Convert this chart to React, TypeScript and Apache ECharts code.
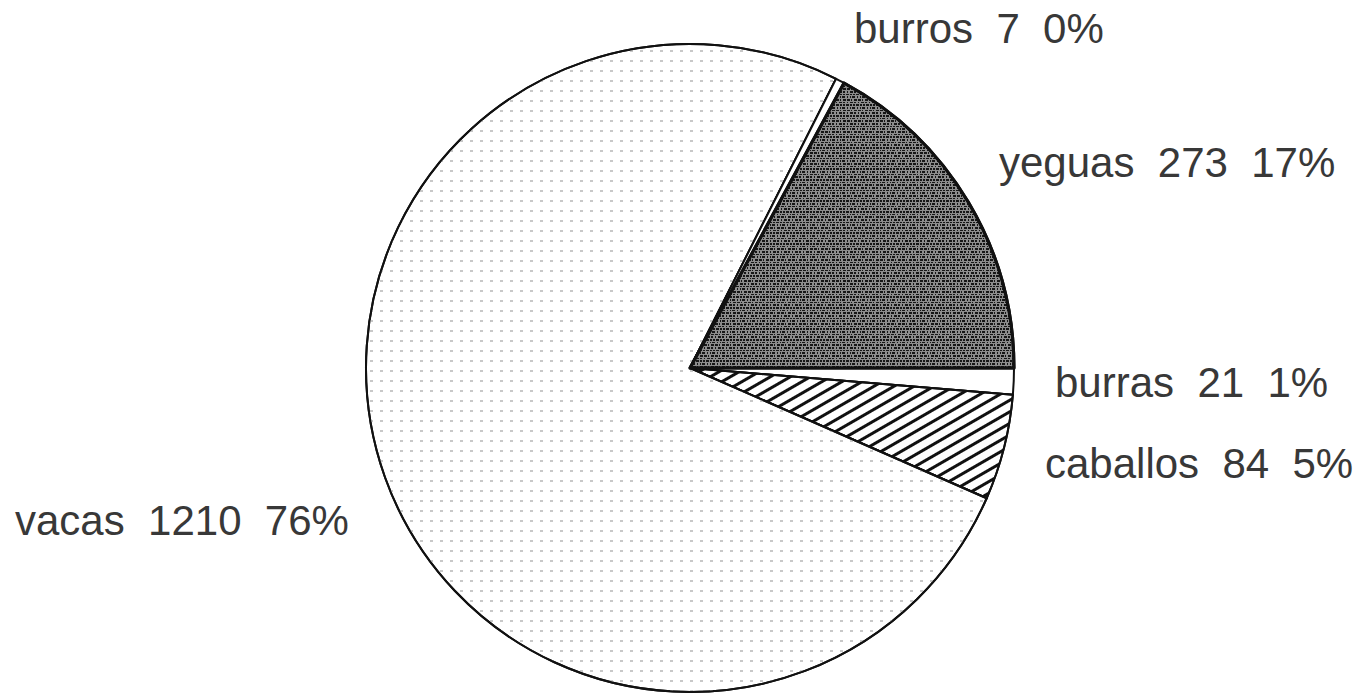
import React, { useEffect, useRef } from "react";
import * as echarts from "echarts";

const categories = ["burras", "caballos", "vacas", "burros", "yeguas"];
const values = [21, 84, 1210, 7, 273];

// label anchor positions (left x, middle y) in pixels
const labelPos: Record<string, [number, number]> = {
  burras: [1055, 382],
  caballos: [1045, 463],
  vacas: [15, 520],
  burros: [854, 28],
  yeguas: [999, 162],
};

const styles: Record<string, any> = {
  burras: { color: "#ffffff" },
  caballos: {
    color: "#ffffff",
    decal: {
      symbol: "rect",
      symbolSize: 1,
      color: "#111111",
      dashArrayX: [1, 0],
      dashArrayY: [3, 7],
      rotation: -Math.PI / 6,
    },
  },
  vacas: {
    color: "#ffffff",
    decal: {
      symbol: "rect",
      symbolSize: 1,
      color: "#c8c8c8",
      dashArrayX: [3, 7],
      dashArrayY: [2, 8],
      rotation: 0,
    },
  },
  burros: { color: "#ffffff" },
  yeguas: {
    color: "#8c8c8c",
    borderWidth: 3,
    decal: {
      symbol: "rect",
      symbolSize: 1,
      color: "rgba(10,10,10,0.9)",
      dashArrayX: [
        [3, 1, 1, 2, 3, 1],
        [1, 2, 3, 1, 2, 2],
        [2, 1, 2, 1, 3, 1],
        [1, 1, 3, 2, 1, 2],
      ],
      dashArrayY: [2, 1, 2, 1, 1, 1],
      rotation: 0,
    },
  },
};

export default function App() {
  const ref = useRef<HTMLDivElement>(null);
  useEffect(() => {
    if (!ref.current) return;
    const chart = echarts.init(ref.current, undefined, { renderer: "svg" });
    chart.setOption({
      animation: false,
      backgroundColor: "#ffffff",
      series: [
        {
          type: "pie",
          center: [690, 368],
          radius: 324,
          startAngle: 0,
          clockwise: true,
          avoidLabelOverlap: false,
          itemStyle: { borderColor: "#111111", borderWidth: 2 },
          emphasis: { disabled: true },
          label: {
            show: true,
            position: "outside",
            fontFamily: "Liberation Sans",
            fontSize: 42,
            color: "#383838",
            formatter: (p: any) =>
              `${p.name}  ${p.value}  ${Math.round(p.percent)}%`,
          },
          labelLine: { show: false },
          labelLayout: (params: any) => {
            const name = categories[params.dataIndex];
            const pos = labelPos[name];
            return {
              x: pos[0],
              y: pos[1],
              align: "left",
              verticalAlign: "middle",
            };
          },
          data: categories.map((name, i) => ({
            name,
            value: values[i],
            itemStyle: styles[name],
          })),
        },
      ],
    });
    return () => chart.dispose();
  }, []);
  return (
    <div
      ref={ref}
      style={{ position: "fixed", left: 0, top: 0, width: 1368, height: 696 }}
    />
  );
}
